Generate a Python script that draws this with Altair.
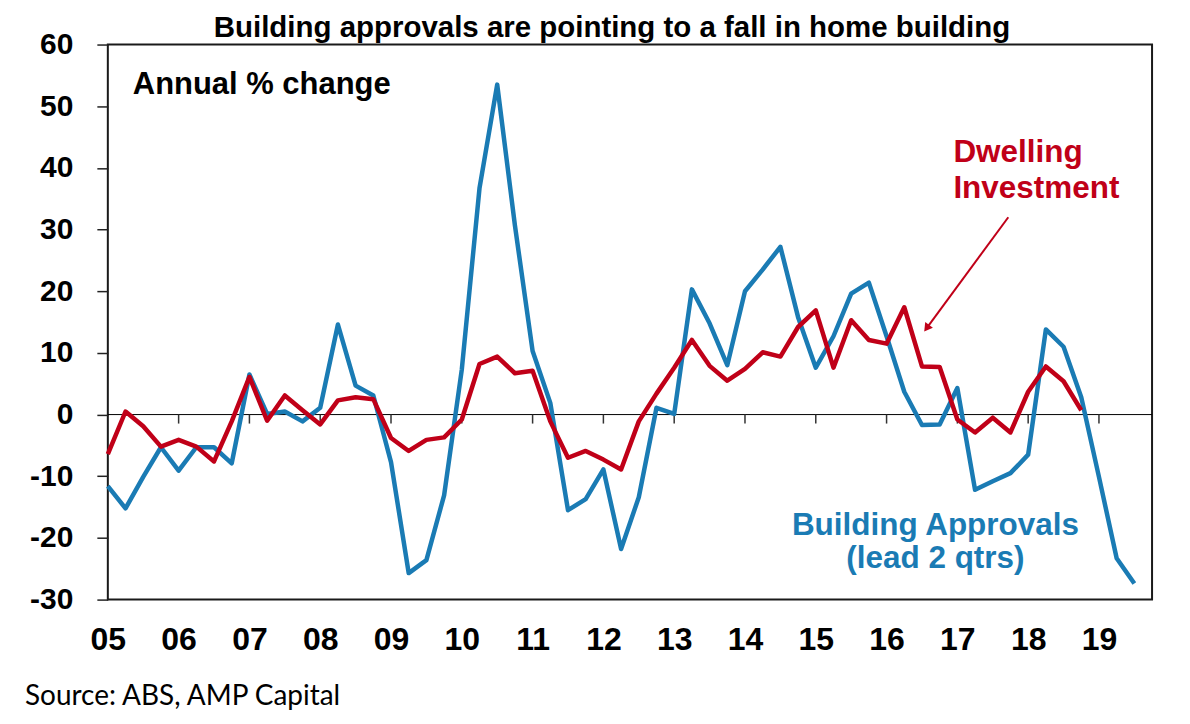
import altair as alt
import pandas as pd

# ---- data (quarterly, index 0 = Q1 2005) ----
year_labels = ["05", "06", "07", "08", "09", "10", "11", "12", "13", "14",
               "15", "16", "17", "18", "19"]

approvals = [-11.6, -15.2, -10.1, -5.3, -9.1, -5.3, -5.3, -7.9, 6.5, 0.1,
             0.5, -1.1, 1.1, 14.6, 4.7, 3.1, -7.7, -25.7, -23.6, -13.1,
             7.3, 36.7, 53.5, 30.7, 10.3, 1.9, -15.5, -13.7, -8.9, -21.8,
             -13.4, 1.1, 0.1, 20.3, 14.8, 8.0, 20.0, 23.5, 27.2, 15.8,
             7.6, 12.7, 19.6, 21.4, 12.7, 3.7, -1.7, -1.6, 4.3, -12.2,
             -10.8, -9.5, -6.5, 13.8, 11.0, 2.8, -10.1, -23.3, -27.4]

dwelling = [-6.4, 0.5, -1.9, -5.2, -4.1, -5.2, -7.6, -1.1, 6.1, -1.0,
            3.1, 0.7, -1.6, 2.3, 2.8, 2.5, -3.8, -5.9, -4.1, -3.7,
            -0.8, 8.2, 9.4, 6.7, 7.1, -1.1, -7.0, -5.9, -7.3, -8.9,
            -1.1, 3.4, 7.6, 12.1, 7.9, 5.5, 7.4, 10.1, 9.4, 14.2,
            16.9, 7.6, 15.3, 12.1, 11.5, 17.4, 7.8, 7.7, -0.8, -2.9,
            -0.5, -2.9, 3.7, 7.8, 5.4, 0.7]

y_ticks = [-30, -20, -10, 0, 10, 20, 30, 40, 50, 60]

BLUE = "#1A7BB4"
RED = "#C00018"
FONT = "Liberation Sans"

df_a = pd.DataFrame({"q": list(range(len(approvals))), "v": approvals})
df_d = pd.DataFrame({"q": list(range(len(dwelling))), "v": dwelling})
tick_pos = [4 * i for i in range(len(year_labels))]

x_scale = alt.Scale(domain=[0, len(approvals)], nice=False, zero=False)
y_scale = alt.Scale(domain=[y_ticks[0], y_ticks[-1]], nice=False, zero=False)

label_expr = "[" + ",".join("'%s'" % s for s in year_labels) + "][round(datum.value / 4)]"

x_axis = alt.Axis(values=tick_pos, labelExpr=label_expr, title=None, grid=False,
                  domain=False, ticks=False, tickSize=0, labelPadding=25,
                  labelFont=FONT, labelFontSize=32, labelFontWeight="bold",
                  labelColor="black", labelFlush=False, labelOverlap=False,
                  labelBound=False)
y_axis = alt.Axis(values=y_ticks, title=None, grid=False, domain=False,
                  labelExpr="'' + datum.value",
                  tickSize=11, tickColor="#222", tickWidth=1.5, labelPadding=24,
                  labelFont=FONT, labelFontSize=30, labelFontWeight="bold",
                  labelColor="black", labelFlush=False, labelOverlap=False)

zero_line = alt.Chart(pd.DataFrame({"y": [0]})).mark_rule(
    color="black", strokeWidth=1).encode(y=alt.Y("y:Q", scale=y_scale, axis=y_axis))

year_ticks = alt.Chart(pd.DataFrame({"q": tick_pos[1:]})).mark_rule(
    color="#333", strokeWidth=1.5, y2Offset=9).encode(
    x=alt.X("q:Q", scale=x_scale, axis=x_axis),
    y=alt.datum(0), y2=alt.datum(0))

line_a = alt.Chart(df_a).mark_line(color=BLUE, strokeWidth=4.5, strokeJoin="round").encode(
    x=alt.X("q:Q", scale=x_scale, axis=x_axis),
    y=alt.Y("v:Q", scale=y_scale, axis=y_axis))

line_d = alt.Chart(df_d).mark_line(color=RED, strokeWidth=4.5, strokeJoin="round").encode(
    x=alt.X("q:Q", scale=x_scale, axis=x_axis),
    y=alt.Y("v:Q", scale=y_scale, axis=y_axis))


def label(text, x, y, color="black", size=31, align="left", font=FONT, weight="bold"):
    return alt.Chart(pd.DataFrame({"t": [text]})).mark_text(
        align=align, baseline="alphabetic", font=font, fontSize=size,
        fontWeight=weight, color=color).encode(
        x=alt.value(x), y=alt.value(y), text="t:N")


texts = [
    label("Building approvals are pointing to a fall in home building", 505, -8,
          align="center", size=29.5),
    label("Annual % change", 25, 50),
    label("Dwelling", 847, 118, color=RED, size=31.5),
    label("Investment", 847, 154, color=RED, size=31.5),
    label("Building Approvals", 829, 491, color=BLUE, align="center", size=31.5),
    label("(lead 2 qtrs)", 829, 524, color=BLUE, align="center", size=31.5),
    label("Source: ABS, AMP Capital", -83, 662, size=28, font="Lato", weight="normal"),
]

arrow_line = alt.Chart(pd.DataFrame({"a": [0]})).mark_rule(
    color=RED, strokeWidth=2).encode(
    x=alt.value(902), y=alt.value(173), x2=alt.value(821), y2=alt.value(283))
arrow_head = alt.Chart(pd.DataFrame({"a": [0]})).mark_point(
    shape="triangle", filled=True, angle=216, size=90, color=RED, opacity=1).encode(
    x=alt.value(821), y=alt.value(283))

chart = alt.layer(zero_line, year_ticks, line_a, line_d, arrow_line, arrow_head, *texts).properties(
    width=1046, height=556,
    autosize=alt.AutoSizeParams(type="none"),
    padding={"left": 100, "top": 36, "right": 30, "bottom": 116},
).configure_view(stroke="#1a1a1a", strokeWidth=2).configure_axis(grid=False)

chart.save("out.html", embed_options={"renderer": "svg", "actions": False})
